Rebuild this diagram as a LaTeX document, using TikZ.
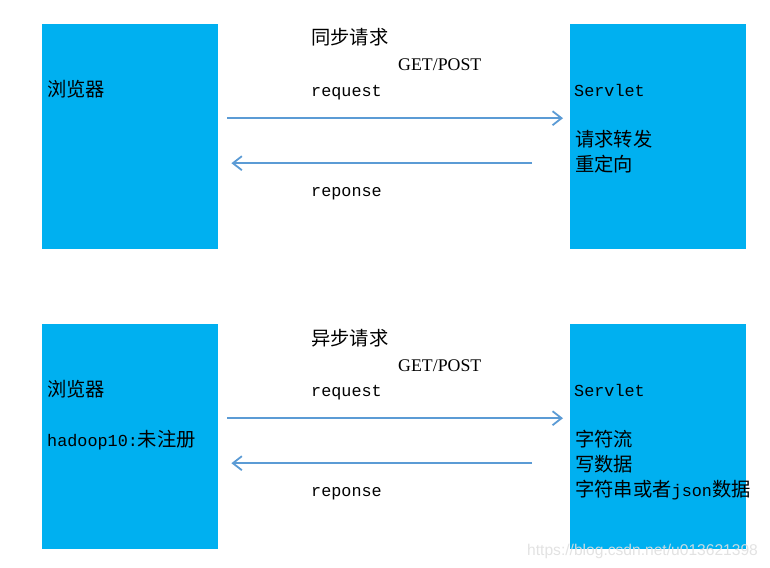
\documentclass[tikz,border=0pt]{standalone}
\usepackage{fontspec}
\usetikzlibrary{arrows.meta}
\newfontfamily\cjk{Noto Sans CJK SC}
\newfontfamily\monof{Liberation Mono}
\newfontfamily\serf{Liberation Serif}
\newfontfamily\wmf{Liberation Sans}
\definecolor{boxblue}{HTML}{00B0F0}
\definecolor{arrblue}{HTML}{5B9BD5}
\newcommand\cjksize{\fontsize{19.3}{22}\selectfont}
\newcommand\monosize{\fontsize{16.8}{20}\selectfont}
\tikzset{
  box/.style={fill=boxblue, draw=none, minimum width=176pt, minimum height=225pt, inner sep=0pt, anchor=north west},
  lbl/.style={inner sep=0pt, anchor=base west, text=black},
  cj/.style={lbl, font=\cjk\cjksize},
  mo/.style={lbl, font=\monof\monosize},
  se/.style={lbl, font=\serf\fontsize{17.8}{20}\selectfont},
  arr/.style={draw=arrblue, line width=1.8pt, -{Straight Barb[length=9pt,width=14pt,line width=1.8pt]}},
  wm/.style={inner sep=0pt, anchor=base west, font=\wmf\fontsize{15.6}{18}\selectfont, text=gray!25, opacity=0.9}
}
\begin{document}
\begin{tikzpicture}[x=1pt,y=-1pt]
\useasboundingbox (0,0) rectangle (770,567);
% top row
\node[box] (b1) at (42,24) {};
\node[box] (b2) at (570,24) {};
\node[cj] (t1) at (47,96) {浏览器};
\node[cj] (t2) at (311,45) {同步请求};
\node[se] (t3) at (398,71) {GET/POST};
\node[mo] (t4) at (311,96) {request};
\node[mo] (t5) at (311,196) {reponse};
\node[mo] (t6) at (574,96) {Servlet};
\node[cj] (t7) at (575,146) {请求转发};
\node[cj] (t8) at (575,171) {重定向};
\draw[arr] ([shift={(9pt,18.5pt)}]b1.east) -- ([shift={(-7pt,18.5pt)}]b2.west);
\draw[arr] ([shift={(-38pt,-26.5pt)}]b2.west) -- ([shift={(13pt,-26.5pt)}]b1.east);
% bottom row
\node[box] (b3) at (42,324) {};
\node[box] (b4) at (570,324) {};
\node[cj] (u1) at (47,396) {浏览器};
\node[lbl] (u2) at (47,446) {{\monof\monosize hadoop10:}{\cjk\cjksize 未注册}};
\node[cj] (u3) at (311,345) {异步请求};
\node[se] (u4) at (398,371) {GET/POST};
\node[mo] (u5) at (311,396) {request};
\node[mo] (u6) at (311,496) {reponse};
\node[mo] (u7) at (574,396) {Servlet};
\node[cj] (u8) at (575,446) {字符流};
\node[cj] (u9) at (575,471) {写数据};
\node[lbl] (u10) at (575,496) {{\cjk\cjksize 字符串或者}{\monof\monosize json}{\cjk\cjksize 数据}};
\draw[arr] ([shift={(9pt,18.5pt)}]b3.east) -- ([shift={(-7pt,18.5pt)}]b4.west);
\draw[arr] ([shift={(-38pt,-26.5pt)}]b4.west) -- ([shift={(13pt,-26.5pt)}]b3.east);
\node[wm] (w) at (527,555) {https://blog.csdn.net/u013621398};
\end{tikzpicture}
\end{document}
